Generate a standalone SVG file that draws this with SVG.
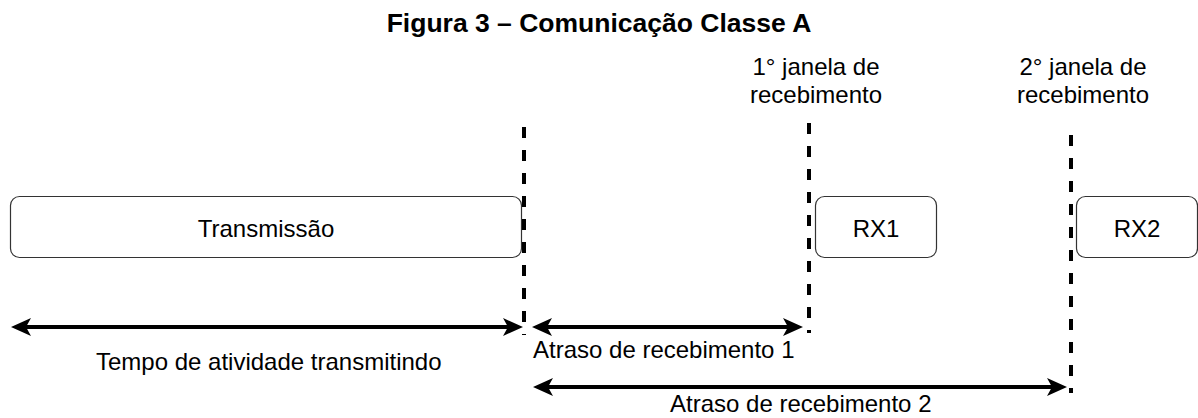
<svg xmlns="http://www.w3.org/2000/svg" width="1198" height="418" viewBox="0 0 1198 418">
<style>
text{font-family:"Liberation Sans",Arial,sans-serif;font-size:24px;fill:#000}
.title{font-weight:bold;font-size:26.5px}
.box{fill:#fff;stroke:#333;stroke-width:1.2}
.dash{stroke:#000;stroke-width:4;stroke-dasharray:11 12;fill:none}
.arr{stroke:#000;stroke-width:4;fill:none;marker-start:url(#ah);marker-end:url(#ah)}
</style>
<defs>
<marker id="ah" viewBox="0 0 20 18" refX="12" refY="9" markerWidth="20" markerHeight="18" markerUnits="userSpaceOnUse" orient="auto-start-reverse">
<path d="M0,0 L20,9 L0,18 L5,9 Z" fill="#000"/>
</marker>
</defs>
<text class="title" x="599" y="32" text-anchor="middle">Figura 3 – Comunicação Classe A</text>
<g id="transmissao">
<rect class="box" x="10.5" y="196.5" width="511" height="61" rx="9"/>
<text x="266" y="237" text-anchor="middle">Transmissão</text>
</g>
<g id="rx1">
<rect class="box" x="815.5" y="196.5" width="121" height="61" rx="9"/>
<text x="876" y="237" text-anchor="middle">RX1</text>
</g>
<g id="rx2">
<rect class="box" x="1076.5" y="196.5" width="121" height="61" rx="9"/>
<text x="1137" y="237" text-anchor="middle">RX2</text>
</g>
<g id="janela1">
<text x="816" y="75" text-anchor="middle">1° janela de</text>
<text x="816" y="103" text-anchor="middle">recebimento</text>
</g>
<g id="janela2">
<text x="1083" y="75" text-anchor="middle">2° janela de</text>
<text x="1083" y="103" text-anchor="middle">recebimento</text>
</g>
<g id="connectors">
<line class="dash" x1="524" y1="127" x2="524" y2="335"/>
<line class="dash" x1="809" y1="123" x2="809" y2="333"/>
<line class="dash" x1="1071" y1="135" x2="1071" y2="393"/>
<line class="arr" x1="19" y1="327" x2="515" y2="327"/>
<line class="arr" x1="540" y1="327" x2="795" y2="327"/>
<line class="arr" x1="541" y1="387" x2="1059" y2="387"/>
</g>
<g id="labels">
<text x="96" y="370">Tempo de atividade transmitindo</text>
<text x="533" y="358">Atraso de recebimento 1</text>
<text x="670" y="412">Atraso de recebimento 2</text>
</g>
</svg>
